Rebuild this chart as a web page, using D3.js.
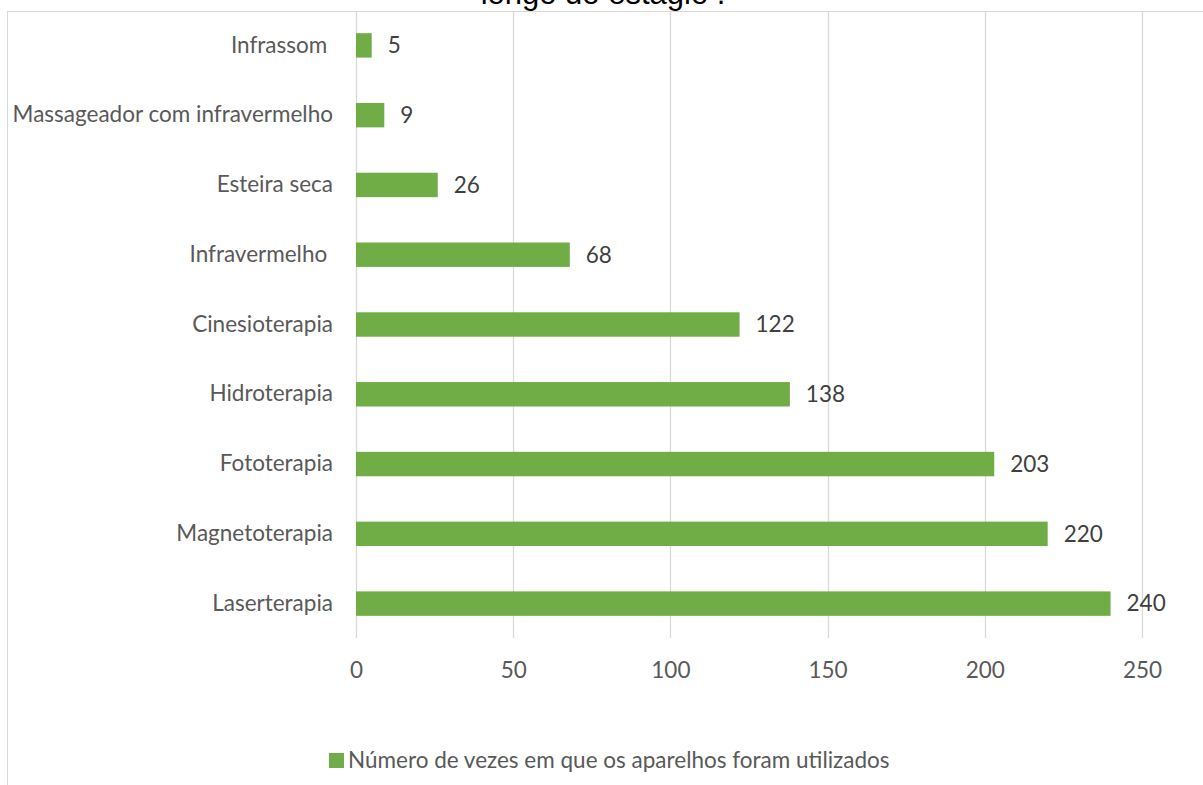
<!DOCTYPE html>
<html>
<head>
<meta charset="utf-8">
<script src="https://cdn.jsdelivr.net/npm/d3@7"></script>
<style>
  html, body { margin: 0; padding: 0; background: #fff; }
  svg { display: block; }
  text { white-space: pre; }
</style>
</head>
<body>
<svg id="chart" width="1203" height="785"></svg>
<script>
// ---- data ----
const categories = ["Infrassom ", "Massageador com infravermelho", "Esteira seca", "Infravermelho ", "Cinesioterapia", "Hidroterapia", "Fototerapia", "Magnetoterapia", "Laserterapia"];
const values = [5, 9, 26, 68, 122, 138, 203, 220, 240];
const xTicks = [0, 50, 100, 150, 200, 250];
const seriesName = "Número de vezes em que os aparelhos foram utilizados";
const titleText = "longo do estágio .";

const data = categories.map((c, i) => ({ cat: c, val: values[i] }));

const svg = d3.select("#chart");
const W = 1203, H = 785;
const font = "Lato, 'Open Sans', sans-serif";
const fs = 22.5;
const green = "#70ad47";

// chart border
svg.append("rect")
  .attr("x", 7.5).attr("y", 11.5)
  .attr("width", W + 20).attr("height", H + 20)
  .attr("fill", "none").attr("stroke", "#d9d9d9").attr("stroke-width", 1);

// title (partially cut off at the top, as in the reference)
svg.append("text")
  .attr("x", 603).attr("y", 4)
  .attr("text-anchor", "middle")
  .attr("font-family", "'Liberation Sans', Arial, sans-serif")
  .attr("font-size", 31)
  .attr("fill", "#000")
  .text(titleText);

const x = d3.scaleLinear().domain([0, 250]).range([356, 1142]);
const y = d3.scaleBand().domain(categories).range([10.5, 638.5])
  .paddingInner(0.65).paddingOuter(0.325);

// gridlines
svg.append("g").selectAll("line").data(xTicks).join("line")
  .attr("x1", d => Math.round(x(d)) + 0.5).attr("x2", d => Math.round(x(d)) + 0.5)
  .attr("y1", 12).attr("y2", 638)
  .attr("stroke", "#d9d9d9").attr("stroke-width", 1.3);

// x axis labels
const xAxis = d3.axisBottom(x).tickValues(xTicks).tickSize(0).tickPadding(0);
const gx = svg.append("g").attr("transform", "translate(0,670)").call(xAxis);
gx.select(".domain").remove();
gx.selectAll("text")
  .attr("dy", "0.35em").attr("y", 0)
  .attr("font-family", font).attr("font-size", fs).attr("fill", "#595959");

// y axis labels
const yAxis = d3.axisLeft(y).tickSize(0).tickPadding(0);
const gy = svg.append("g").attr("transform", "translate(333,0)").call(yAxis);
gy.select(".domain").remove();
gy.selectAll("text")
  .attr("font-family", font).attr("font-size", fs).attr("fill", "#595959")
  .style("white-space", "pre");

// bars
svg.append("g").selectAll("rect").data(data).join("rect")
  .attr("x", x(0)).attr("y", d => y(d.cat))
  .attr("width", d => x(d.val) - x(0)).attr("height", y.bandwidth())
  .attr("fill", green);

// data labels
svg.append("g").selectAll("text").data(data).join("text")
  .attr("x", d => x(d.val) + 16)
  .attr("y", d => y(d.cat) + y.bandwidth() / 2)
  .attr("dy", "0.35em")
  .attr("font-family", font).attr("font-size", fs).attr("fill", "#404040")
  .text(d => d.val);

// legend
const lg = svg.append("g");
lg.append("rect").attr("x", 329).attr("y", 753).attr("width", 15).attr("height", 15).attr("fill", green);
lg.append("text").attr("x", 348).attr("y", 760.5).attr("dy", "0.35em")
  .attr("font-family", font).attr("font-size", fs).attr("fill", "#595959")
  .text(seriesName);
</script>
</body>
</html>
